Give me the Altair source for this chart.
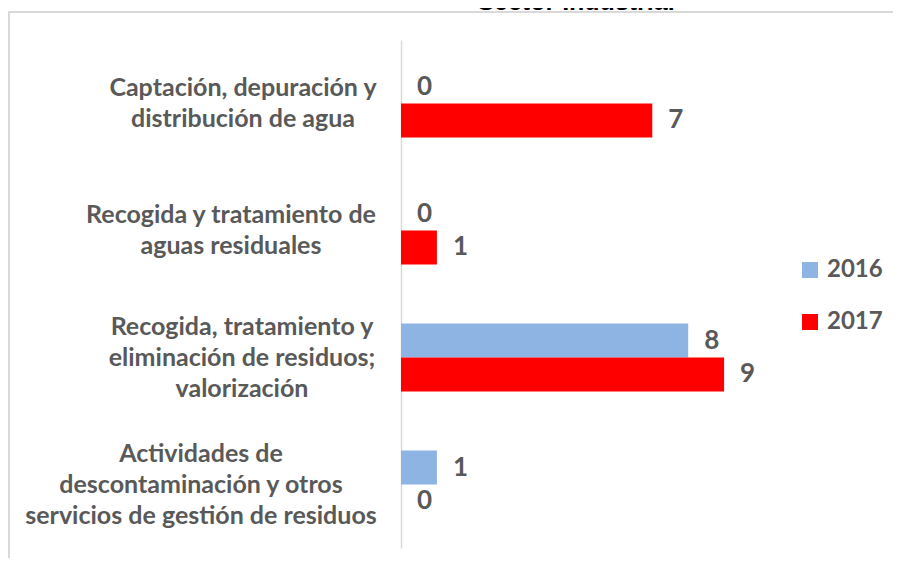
import altair as alt
import pandas as pd

categories = [
    "Captación, depuración y\ndistribución de agua",
    "Recogida y tratamiento de\naguas residuales",
    "Recogida, tratamiento y\neliminación de residuos;\nvalorización",
    "Actividades de\ndescontaminación y otros\nservicios de gestión de residuos",
]
years = ["2016", "2017"]
v2016 = [0, 0, 8, 1]
v2017 = [7, 1, 9, 0]
title_text = "Sector Industrial"

# layout only: horizontal centre of each category label block (pixels from plot left)
label_centres = [-158, -170, -159, -200]

rows = []
for c, a, b in zip(categories, v2016, v2017):
    rows.append({"cat": c, "year": "2016", "value": a})
    rows.append({"cat": c, "year": "2017", "value": b})
df = pd.DataFrame(rows)
cat_df = pd.DataFrame({"cat": categories, "lx": label_centres,
                       "nlines": [c.count("\n") + 1 for c in categories]})

W, H = 359, 508
TXT = "#595959"
FONT = "Lato"
LH = 31

yscale = alt.Scale(domain=categories, paddingInner=0.465, paddingOuter=0.2325)
ycat = alt.Y("cat:N", sort=categories, scale=yscale,
             axis=alt.Axis(labels=False, ticks=False, title=None, domain=True,
                           domainColor="#D9D9D9", domainWidth=1.5, grid=False))
yoff = alt.YOffset("year:N", sort=years,
                   scale=alt.Scale(domain=years, paddingInner=0, paddingOuter=0))
xval = alt.X("value:Q", scale=alt.Scale(domain=[0, 10]), axis=None)

bars = alt.Chart(df).mark_bar(size=34).encode(
    x=xval, y=ycat, yOffset=yoff,
    color=alt.Color("year:N", sort=years,
                    scale=alt.Scale(domain=years, range=["#8EB4E3", "#FF0000"]),
                    legend=alt.Legend(title=None, orient="none", legendX=397, legendY=218,
                                      symbolType="square", symbolSize=256,
                                      symbolStrokeWidth=0,
                                      labelFont=FONT, labelFontSize=24, labelFontWeight="bold",
                                      labelColor=TXT, rowPadding=28, labelOffset=5)),
)

labels = alt.Chart(df).mark_text(align="left", baseline="middle", dx=16,
                                 font=FONT, fontSize=26, fontWeight="bold", color=TXT).encode(
    x=xval, y=ycat, yOffset=yoff, text="value:Q")

cat_layers = []
for n in sorted(cat_df["nlines"].unique()):
    cat_layers.append(
        alt.Chart(cat_df).transform_filter(alt.datum.nlines == int(n)).mark_text(
            align="center", baseline="middle", lineBreak="\n", lineHeight=LH,
            dy=-(int(n) - 1) * LH / 2, font=FONT, fontSize=25,
            fontWeight="bold", color=TXT).encode(
            x=alt.X("lx:Q", scale=None), y=ycat, text="cat:N"))

frame_top = alt.Chart(cat_df.head(1)).mark_rule(color="#D9D9D9", strokeWidth=2).encode(
    x=alt.value(-393), x2=alt.value(W + 160), y=alt.value(-28))
frame_left = alt.Chart(cat_df.head(1)).mark_rule(color="#D9D9D9", strokeWidth=2).encode(
    x=alt.value(-392), y=alt.value(-28), y2=alt.value(H + 20))
title = alt.Chart(pd.DataFrame({"t": [title_text]})).mark_text(
    align="center", baseline="alphabetic", font="Liberation Sans", fontSize=25,
    fontWeight="bold", color="#000000").encode(
    x=alt.value(175), y=alt.value(-30), text="t:N")

chart = alt.layer(frame_top, frame_left, title, bars, labels, *cat_layers).properties(
    width=W, height=H,
    autosize=alt.AutoSizeParams(type="none"),
    padding={"left": 393, "top": 32, "right": 133, "bottom": 10},
).configure_view(stroke=None)

chart.save("out.html", embed_options={"renderer": "svg", "actions": False})
